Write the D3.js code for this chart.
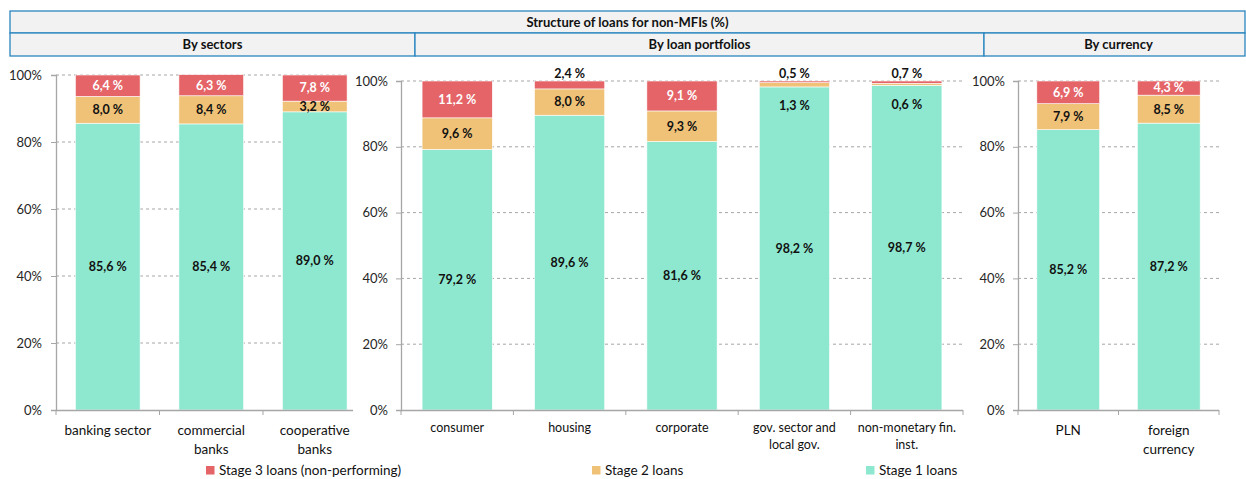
<!DOCTYPE html>
<html>
<head>
<meta charset="utf-8">
<script src="https://cdn.jsdelivr.net/npm/d3@7"></script>
<style>
  body { margin: 0; background: #fff; }
  svg { display: block; font-family: Lato, "Open Sans", sans-serif; }
</style>
</head>
<body>
<script>
// chart values
var title = "Structure of loans for non-MFIs (%)";
var seriesNames = ["Stage 3 loans (non-performing)", "Stage 2 loans", "Stage 1 loans"];
var yTicks = [0, 20, 40, 60, 80, 100];

var sectorTitle = "By sectors";
var sectorCats = [["banking sector"], ["commercial", "banks"], ["cooperative", "banks"]];
var sectorStage1 = [85.6, 85.4, 89.0];
var sectorStage2 = [8.0, 8.4, 3.2];
var sectorStage3 = [6.4, 6.3, 7.8];

var portfolioTitle = "By loan portfolios";
var portfolioCats = [["consumer"], ["housing"], ["corporate"], ["gov. sector and", "local gov."], ["non-monetary fin.", "inst."]];
var portfolioStage1 = [79.2, 89.6, 81.6, 98.2, 98.7];
var portfolioStage2 = [9.6, 8.0, 9.3, 1.3, 0.6];
var portfolioStage3 = [11.2, 2.4, 9.1, 0.5, 0.7];

var currencyTitle = "By currency";
var currencyCats = [["PLN"], ["foreign", "currency"]];
var currencyStage1 = [85.2, 87.2];
var currencyStage2 = [7.9, 8.5];
var currencyStage3 = [6.9, 4.3];

// Colours
var colStage3 = "#e46468";
var colStage2 = "#efc278";
var colStage1 = "#8ee8d0";
var borderBlue = "#2a85bf";

var width = 1246, height = 479;

var svg = d3.select("body").append("svg")
    .attr("width", width)
    .attr("height", height);

// Header boxes
var head = svg.append("g");
head.append("rect").attr("x", 10).attr("y", 11).attr("width", 1235).attr("height", 22)
    .attr("fill", "#f2f2f2").attr("stroke", borderBlue).attr("stroke-width", 1.3);
head.append("text").attr("x", 627.5).attr("y", 26.5).attr("text-anchor", "middle")
    .attr("font-size", 13).attr("font-weight", "bold").attr("fill", "#111").text(title);

var heads = [
    { x0: 10, x1: 415, t: sectorTitle },
    { x0: 415, x1: 984, t: portfolioTitle },
    { x0: 984, x1: 1245, t: currencyTitle }
];
heads.forEach(function (h) {
    head.append("rect").attr("x", h.x0).attr("y", 33).attr("width", h.x1 - h.x0).attr("height", 23)
        .attr("fill", "#f2f2f2").attr("stroke", borderBlue).attr("stroke-width", 1.3);
    head.append("text").attr("x", (h.x0 + h.x1) / 2 + (h.t == currencyTitle ? 4 : 0)).attr("y", 49)
        .attr("text-anchor", "middle").attr("font-size", 13).attr("font-weight", "bold")
        .attr("fill", "#111").text(h.t);
});

var fmt = function (v) { return d3.format(".1f")(v).replace(".", ",") + " %"; };

function drawPanel(p) {
    var g = svg.append("g");
    var keys = p.cats.map(function (c) { return c.join(" "); });

    var x = d3.scaleBand().domain(keys).range([p.x0, p.x1])
        .paddingInner(0.375).paddingOuter(0.1875);
    var y = d3.scaleLinear().domain([0, 100]).range([410, p.yTop]);

    // gridlines
    g.append("g").selectAll("line").data(yTicks.filter(function (d) { return d > 0; })).enter()
        .append("line")
        .attr("x1", p.x0).attr("x2", p.gridEnd)
        .attr("y1", function (d) { return y(d); }).attr("y2", function (d) { return y(d); })
        .attr("stroke", "#a6a6a6").attr("stroke-dasharray", "3,3").attr("stroke-width", 1);

    // y axis
    var yAxis = d3.axisLeft(y).tickValues(yTicks).tickSize(5)
        .tickFormat(function (d) { return d + "%"; });
    var ya = g.append("g").attr("transform", "translate(" + p.x0 + ",0)").call(yAxis);
    ya.select(".domain").attr("stroke", "#a6a6a6").attr("stroke-width", 1.3);
    ya.selectAll(".tick line").attr("stroke", "#a6a6a6");
    ya.selectAll(".tick text").attr("x", -(p.x0 - p.labelRight)).attr("font-family", "Lato, sans-serif")
        .attr("font-size", 13).attr("fill", "#262626");

    // stack
    var rows = keys.map(function (k, i) {
        return { key: k, s1: p.s1[i], s2: p.s2[i], s3: p.s3[i] };
    });
    var stack = d3.stack().keys(["s1", "s2", "s3"])(rows);
    var colors = { s1: colStage1, s2: colStage2, s3: colStage3 };

    stack.forEach(function (layer) {
        g.append("g").selectAll("rect").data(layer).enter().append("rect")
            .attr("x", function (d) { return x(d.data.key); })
            .attr("width", x.bandwidth())
            .attr("y", function (d) { return y(d[1]); })
            .attr("height", function (d) { return y(d[0]) - y(d[1]); })
            .attr("fill", colors[layer.key])
            .attr("stroke", "#fff").attr("stroke-width", 0.6);
    });

    // value labels
    stack.forEach(function (layer) {
        g.append("g").selectAll("text").data(layer).enter().append("text")
            .attr("x", function (d) { return x(d.data.key) + x.bandwidth() / 2; })
            .attr("y", function (d) {
                var h = y(d[0]) - y(d[1]);
                var mid = (y(d[0]) + y(d[1])) / 2;
                if (h < 9 && layer.key == "s3") return y(d[1]) - 7;
                if (h < 9 && layer.key == "s2") return y(d[0]) + 19;
                return mid;
            })
            .attr("dy", "0.35em")
            .attr("text-anchor", "middle")
            .attr("font-size", 12.5).attr("font-weight", "bold")
            .attr("fill", function (d) {
                var h = y(d[0]) - y(d[1]);
                return (layer.key == "s3" && h >= 9) ? "#fff" : "#111";
            })
            .text(function (d) { return fmt(d.data[layer.key]); });
    });

    // x axis line with ticks between categories
    var step = x.step();
    g.append("line").attr("x1", p.x0).attr("x2", p.axisEnd).attr("y1", 410.5).attr("y2", 410.5)
        .attr("stroke", "#a6a6a6").attr("stroke-width", 1.3);
    var bounds = d3.range(keys.length + 1).map(function (i) { return p.x0 + i * step; })
        .filter(function (b) { return b <= p.axisEnd + 0.5; });
    g.append("g").selectAll("line").data(bounds).enter().append("line")
        .attr("x1", function (d) { return d; }).attr("x2", function (d) { return d; })
        .attr("y1", 410).attr("y2", 415).attr("stroke", "#a6a6a6");

    // category labels
    var cl = g.append("g").selectAll("text").data(p.cats).enter().append("text")
        .attr("x", function (d, i) { return x(keys[i]) + x.bandwidth() / 2; })
        .attr("y", p.catY)
        .attr("text-anchor", "middle")
        .attr("font-size", p.catSize).attr("fill", "#111");
    cl.each(function (d) {
        var t = d3.select(this);
        d.forEach(function (line, j) {
            t.append("tspan").attr("x", t.attr("x")).attr("dy", j == 0 ? 0 : p.catLine).text(line);
        });
    });
}

drawPanel({ cats: sectorCats, s1: sectorStage1, s2: sectorStage2, s3: sectorStage3,
    x0: 56, x1: 366.5, yTop: 75, labelRight: 42, gridEnd: 350, axisEnd: 353,
    catY: 435, catSize: 13.5, catLine: 18.5 });
drawPanel({ cats: portfolioCats, s1: portfolioStage1, s2: portfolioStage2, s3: portfolioStage3,
    x0: 401, x1: 963, yTop: 81, labelRight: 388, gridEnd: 963, axisEnd: 963,
    catY: 432, catSize: 12.5, catLine: 17 });
drawPanel({ cats: currencyCats, s1: currencyStage1, s2: currencyStage2, s3: currencyStage3,
    x0: 1018, x1: 1219, yTop: 81, labelRight: 1005, gridEnd: 1219, axisEnd: 1219,
    catY: 435, catSize: 13.5, catLine: 18.5 });

// legend
var legendX = [206, 592, 866];
var legendCols = [colStage3, colStage2, colStage1];
var lg = svg.append("g");
seriesNames.forEach(function (n, i) {
    lg.append("rect").attr("x", legendX[i]).attr("y", 466).attr("width", 8.5).attr("height", 8.5)
        .attr("fill", legendCols[i]);
    lg.append("text").attr("x", legendX[i] + 13).attr("y", 475).attr("font-size", 13.5)
        .attr("fill", "#111").text(n);
});
</script>
</body>
</html>
